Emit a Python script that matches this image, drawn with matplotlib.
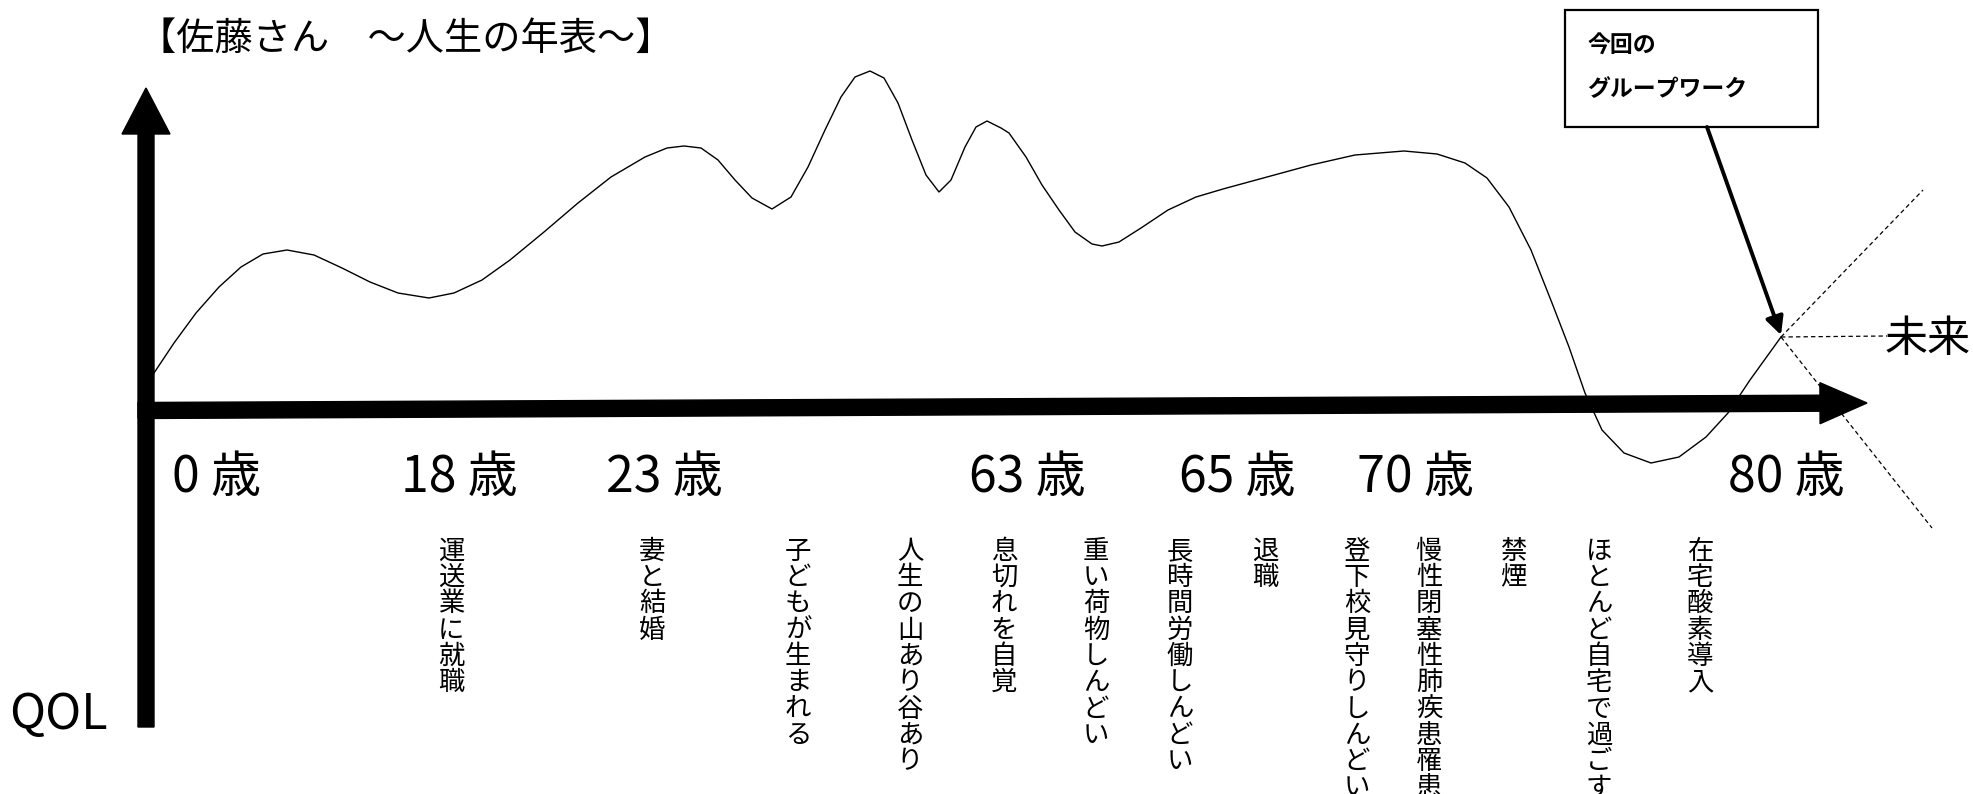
import matplotlib
matplotlib.use('Agg')
import matplotlib.pyplot as plt
from matplotlib.patches import Rectangle

plt.rcParams['font.family'] = ['Noto Sans CJK JP', 'DejaVu Sans']

# life curve: position along the time axis (x) and QOL above the axis (y)
qol_x = [8, 28, 50, 73, 95, 117, 141, 168, 196, 224, 252, 283, 308, 336, 364,
         398, 432, 465, 499, 521, 538, 555, 572, 589, 606, 626, 645, 662, 679,
         695, 709, 724, 738, 752, 766, 780, 793, 805, 819, 830, 841, 855, 863,
         880, 896, 913, 929, 946, 956, 973, 995, 1022, 1050, 1077, 1121, 1165,
         1209, 1258, 1291, 1319, 1341, 1363, 1385, 1406, 1423, 1439, 1456,
         1478, 1505, 1533, 1560, 1582, 1604, 1635]
qol_y = [35, 65, 95, 121, 141, 154, 158, 153, 140, 126, 115, 110, 115, 128, 148,
         176, 205, 231, 251, 260, 262, 260, 248, 228, 210, 199, 211, 241, 278,
         311, 331, 337, 330, 305, 268, 233, 216, 228, 261, 281, 287, 280, 275,
         251, 223, 198, 176, 164, 162, 166, 180, 198, 211, 219, 231, 243,
         253, 257, 254, 245, 230, 201, 158, 105, 61, 15, -22,
         -45, -55, -49, -29, -5, 28, 71]

# the three possible futures from "now"
future_x = [1777, 1741, 1786]
future_y = [218, 72, -120]

age_labels = ['0 歳', '18 歳', '23 歳', '63 歳', '65 歳', '70 歳', '80 歳']
age_pos = [71, 313, 518, 881, 1091, 1269, 1640]

events = ['運送業に就職', '妻と結婚', '子どもが生まれる', '人生の山あり谷あり',
          '息切れを自覚', '重い荷物しんどい', '長時間労働しんどい', '退職',
          '登下校見守りしんどい', '慢性閉塞性肺疾患罹患', '禁煙',
          'ほとんど自宅で過ごす', '在宅酸素導入']
event_pos = [305, 506, 652, 764, 858, 950, 1034, 1119, 1211, 1283, 1367, 1453, 1554]

title = '【佐藤さん　～人生の年表～】'
box_lines = ['今回の', 'グループワーク']

fig = plt.figure(figsize=(19.73, 7.94), dpi=100)
ax = fig.add_axes([0, 0, 1, 1])
ax.set_xlim(-146, 1827)
ax.set_ylim(-386, 408)
ax.axis('off')

# QOL curve
ax.plot(qol_x, qol_y, color='black', lw=1.0, solid_joinstyle='round', zorder=2)

# dashed futures
now_x, now_y = qol_x[-1], qol_y[-1]
for fx, fy in zip(future_x, future_y):
    ax.plot([now_x, fx], [now_y, fy], color='black', lw=0.9,
            linestyle=(0, (3.5, 2.5)), zorder=2)

# axes arrows
ax.arrow(0, -319, 0, 639, width=16, head_width=48, head_length=46,
         length_includes_head=True, color='black', zorder=3)
ax.arrow(-8, -2.5, 1729, 7.5, width=16, head_width=41, head_length=47,
         length_includes_head=True, color='black', zorder=3)

ax.text(-8, 369, title, fontsize=27.5, ha='left', va='center')
ax.text(-137, -307, 'QOL', fontsize=35, ha='left', va='center')
ax.text(1739, 68, '未来', fontsize=31, ha='left', va='center')

for lab, px in zip(age_labels, age_pos):
    ax.text(px, -70, lab, fontsize=36, ha='center', va='center')

# vertical event labels, one character per line
pitch = 26.3
for ev, px in zip(events, event_pos):
    for i, ch in enumerate(ev):
        ax.text(px, -130 - pitch * (i + 0.5), ch, fontsize=19,
                ha='center', va='center')

# group work box with arrow to "now"
ax.add_patch(Rectangle((1419, 281), 253, 117, facecolor='white',
                       edgecolor='black', lw=1.6, zorder=4))
ax.text(1441, 363, box_lines[0], fontsize=16.5, weight='bold', va='center', zorder=5)
ax.text(1441, 318, box_lines[1], fontsize=16.5, weight='bold', va='center', zorder=5)
ax.annotate('', xy=(now_x, now_y + 2), xytext=(1561, 281),
            arrowprops=dict(arrowstyle='-|>,head_length=0.6,head_width=0.3',
                            mutation_scale=18, lw=2.8, color='black',
                            shrinkA=0, shrinkB=0), zorder=4)

fig.savefig('out.png', dpi=100)
